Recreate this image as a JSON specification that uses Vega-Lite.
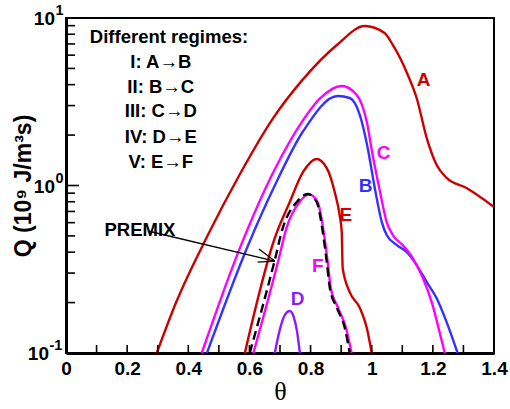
{
  "$schema": "https://vega.github.io/schema/vega-lite/v6.json",
  "width": 428,
  "height": 335,
  "autosize": "none",
  "padding": {"left": 66, "top": 18, "right": 16, "bottom": 56},
  "background": "white",
  "config": {
    "view": {"stroke": "black", "strokeWidth": 2},
    "axis": {
      "labelFont": "Liberation Sans", "labelFontWeight": "bold", "labelFontSize": 19, "labelColor": "black",
      "titleFont": "Liberation Sans", "titleFontWeight": "bold", "titleColor": "black",
      "domainColor": "black", "domainWidth": 3, "grid": false
    },
    "text": {"font": "Liberation Sans", "fontWeight": "bold"}
  },
  "datasets": {
    "curves": [
      {"s": "A", "t": 0.297, "q": 0.1}, {"s": "A", "t": 0.36, "q": 0.2}, {"s": "A", "t": 0.464, "q": 0.506},
      {"s": "A", "t": 0.57, "q": 1.18}, {"s": "A", "t": 0.676, "q": 2.5}, {"s": "A", "t": 0.775, "q": 4.3},
      {"s": "A", "t": 0.886, "q": 6.9}, {"s": "A", "t": 0.977, "q": 8.95}, {"s": "A", "t": 1.042, "q": 8.13},
      {"s": "A", "t": 1.069, "q": 6.9}, {"s": "A", "t": 1.114, "q": 4.76}, {"s": "A", "t": 1.147, "q": 3.33},
      {"s": "A", "t": 1.18, "q": 1.92}, {"s": "A", "t": 1.212, "q": 1.33}, {"s": "A", "t": 1.245, "q": 1.11},
      {"s": "A", "t": 1.31, "q": 0.966}, {"s": "A", "t": 1.4, "q": 0.745},
      {"s": "B", "t": 0.461, "q": 0.1}, {"s": "B", "t": 0.592, "q": 0.424}, {"s": "B", "t": 0.683, "q": 1.0},
      {"s": "B", "t": 0.775, "q": 2.1}, {"s": "B", "t": 0.889, "q": 3.42}, {"s": "B", "t": 0.928, "q": 3.33},
      {"s": "B", "t": 0.961, "q": 2.64}, {"s": "B", "t": 0.987, "q": 1.67}, {"s": "B", "t": 1.01, "q": 0.966},
      {"s": "B", "t": 1.033, "q": 0.605}, {"s": "B", "t": 1.049, "q": 0.506}, {"s": "B", "t": 1.082, "q": 0.441},
      {"s": "B", "t": 1.114, "q": 0.401}, {"s": "B", "t": 1.147, "q": 0.335}, {"s": "B", "t": 1.18, "q": 0.265},
      {"s": "B", "t": 1.212, "q": 0.213}, {"s": "B", "t": 1.245, "q": 0.153}, {"s": "B", "t": 1.281, "q": 0.1},
      {"s": "C", "t": 0.444, "q": 0.1}, {"s": "C", "t": 0.569, "q": 0.424}, {"s": "C", "t": 0.683, "q": 1.25},
      {"s": "C", "t": 0.775, "q": 2.45}, {"s": "C", "t": 0.83, "q": 3.3}, {"s": "C", "t": 0.902, "q": 3.93},
      {"s": "C", "t": 0.951, "q": 3.47}, {"s": "C", "t": 0.984, "q": 2.39}, {"s": "C", "t": 1.003, "q": 1.52},
      {"s": "C", "t": 1.026, "q": 0.94}, {"s": "C", "t": 1.049, "q": 0.605}, {"s": "C", "t": 1.069, "q": 0.506},
      {"s": "C", "t": 1.101, "q": 0.441}, {"s": "C", "t": 1.134, "q": 0.369}, {"s": "C", "t": 1.167, "q": 0.281},
      {"s": "C", "t": 1.199, "q": 0.194}, {"s": "C", "t": 1.222, "q": 0.133}, {"s": "C", "t": 1.239, "q": 0.1},
      {"s": "D", "t": 0.683, "q": 0.1}, {"s": "D", "t": 0.699, "q": 0.137}, {"s": "D", "t": 0.716, "q": 0.169},
      {"s": "D", "t": 0.732, "q": 0.178}, {"s": "D", "t": 0.745, "q": 0.164}, {"s": "D", "t": 0.755, "q": 0.137},
      {"s": "D", "t": 0.765, "q": 0.1},
      {"s": "E", "t": 0.585, "q": 0.1}, {"s": "E", "t": 0.683, "q": 0.486}, {"s": "E", "t": 0.732, "q": 0.797},
      {"s": "E", "t": 0.775, "q": 1.2}, {"s": "E", "t": 0.82, "q": 1.44}, {"s": "E", "t": 0.853, "q": 1.27},
      {"s": "E", "t": 0.879, "q": 0.914}, {"s": "E", "t": 0.895, "q": 0.667}, {"s": "E", "t": 0.902, "q": 0.527},
      {"s": "E", "t": 0.905, "q": 0.322}, {"s": "E", "t": 0.928, "q": 0.231}, {"s": "E", "t": 0.961, "q": 0.186},
      {"s": "E", "t": 0.984, "q": 0.141}, {"s": "E", "t": 1.0, "q": 0.1},
      {"s": "F", "t": 0.613, "q": 0.1}, {"s": "F", "t": 0.695, "q": 0.359}, {"s": "F", "t": 0.721, "q": 0.557},
      {"s": "F", "t": 0.764, "q": 0.797}, {"s": "F", "t": 0.795, "q": 0.885}, {"s": "F", "t": 0.823, "q": 0.797},
      {"s": "F", "t": 0.843, "q": 0.527}, {"s": "F", "t": 0.856, "q": 0.349}, {"s": "F", "t": 0.866, "q": 0.245},
      {"s": "F", "t": 0.89, "q": 0.186}, {"s": "F", "t": 0.916, "q": 0.141}, {"s": "F", "t": 0.934, "q": 0.1},
      {"s": "PREMIX", "t": 0.601, "q": 0.1}, {"s": "PREMIX", "t": 0.683, "q": 0.359}, {"s": "PREMIX", "t": 0.709, "q": 0.557},
      {"s": "PREMIX", "t": 0.755, "q": 0.797}, {"s": "PREMIX", "t": 0.791, "q": 0.889}, {"s": "PREMIX", "t": 0.82, "q": 0.797},
      {"s": "PREMIX", "t": 0.84, "q": 0.527}, {"s": "PREMIX", "t": 0.853, "q": 0.349}, {"s": "PREMIX", "t": 0.863, "q": 0.245},
      {"s": "PREMIX", "t": 0.886, "q": 0.186}, {"s": "PREMIX", "t": 0.912, "q": 0.141}, {"s": "PREMIX", "t": 0.928, "q": 0.1}
    ],
    "curveLabels": [
      {"s": "A", "t": 1.17, "q": 4.27}, {"s": "B", "t": 0.98, "q": 0.993}, {"s": "C", "t": 1.039, "q": 1.56},
      {"s": "D", "t": 0.758, "q": 0.21}, {"s": "E", "t": 0.915, "q": 0.667}, {"s": "F", "t": 0.824, "q": 0.33}
    ],
    "notes": [
      {"text": "Different regimes:", "t": 0.337, "q": 7.71},
      {"text": "I: A→B", "t": 0.31, "q": 5.46},
      {"text": "II: B→C", "t": 0.31, "q": 3.87},
      {"text": "III: C→D", "t": 0.31, "q": 2.79},
      {"text": "IV: D→E", "t": 0.31, "q": 1.95},
      {"text": "V: E→F", "t": 0.31, "q": 1.38},
      {"text": "PREMIX", "t": 0.242, "q": 0.542}
    ],
    "yLabels": [
      {"e": "1", "q": 10}, {"e": "0", "q": 1}, {"e": "-1", "q": 0.1}
    ],
    "xTicks": [
      {"t": 0.1}, {"t": 0.2}, {"t": 0.3}, {"t": 0.4}, {"t": 0.5}, {"t": 0.6}, {"t": 0.7},
      {"t": 0.8}, {"t": 0.9}, {"t": 1.0}, {"t": 1.1}, {"t": 1.2}, {"t": 1.3}
    ],
    "yMajorTicks": [{"q": 1}],
    "yMinorTicks": [
      {"q": 0.2}, {"q": 0.3}, {"q": 0.4}, {"q": 0.5}, {"q": 0.6}, {"q": 0.7}, {"q": 0.8}, {"q": 0.9},
      {"q": 2}, {"q": 3}, {"q": 4}, {"q": 5}, {"q": 6}, {"q": 7}, {"q": 8}, {"q": 9}
    ],
    "arrow": [
      {"t": 0.268, "q": 0.535, "t2": 0.683, "q2": 0.354},
      {"t": 0.631, "q": 0.418, "t2": 0.683, "q2": 0.354},
      {"t": 0.627, "q": 0.349, "t2": 0.683, "q2": 0.354}
    ]
  },
  "layer": [
    {
      "data": {"name": "curves"},
      "transform": [{"filter": "datum.s != 'PREMIX'"}],
      "mark": {"type": "line", "strokeWidth": 2.4, "interpolate": "monotone", "clip": true},
      "encoding": {
        "x": {"field": "t", "type": "quantitative", "scale": {"domain": [0, 1.4], "nice": false},
          "axis": {"orient": "bottom", "values": [0, 0.2, 0.4, 0.6, 0.8, 1, 1.2, 1.4],
            "format": "~g", "ticks": false, "tickSize": 0, "labelPadding": 6, "labelFlush": false, "labelOverlap": false,
            "title": "θ", "titleFont": "Liberation Serif", "titleFontWeight": "normal", "titleFontSize": 26, "titlePadding": 0}},
        "y": {"field": "q", "type": "quantitative", "scale": {"type": "log", "domain": [0.1, 10], "nice": false},
          "axis": {"orient": "left", "values": [0.1, 1, 10], "labels": false, "ticks": false, "tickSize": 0,
            "title": "Q (10⁹ J/m³s)", "titleFontSize": 23, "titlePadding": 31}},
        "color": {"field": "s", "type": "nominal", "legend": null,
          "scale": {"domain": ["A", "B", "C", "D", "E", "F", "PREMIX"],
            "range": ["#CC0000", "#3333FF", "#FF00FF", "#8A1CFF", "#CC0000", "#FF00FF", "black"]}},
        "detail": {"field": "s"}
      }
    },
    {
      "data": {"name": "curves"},
      "transform": [{"filter": "datum.s == 'PREMIX'"}],
      "mark": {"type": "line", "strokeWidth": 2.4, "interpolate": "monotone", "strokeDash": [9, 5], "color": "black", "clip": true},
      "encoding": {
        "x": {"field": "t", "type": "quantitative"},
        "y": {"field": "q", "type": "quantitative"}
      }
    },
    {
      "data": {"name": "arrow"},
      "mark": {"type": "rule", "color": "black", "strokeWidth": 1.3},
      "encoding": {
        "x": {"field": "t", "type": "quantitative"},
        "y": {"field": "q", "type": "quantitative"},
        "x2": {"field": "t2"},
        "y2": {"field": "q2"}
      }
    },
    {
      "data": {"name": "xTicks"},
      "mark": {"type": "rule", "color": "black", "strokeWidth": 1.6, "yOffset": -8},
      "encoding": {
        "x": {"field": "t", "type": "quantitative"},
        "y": {"datum": 0.1, "type": "quantitative"},
        "y2": {"datum": 0.1}
      }
    },
    {
      "data": {"name": "yMajorTicks"},
      "mark": {"type": "rule", "color": "black", "strokeWidth": 1.6, "x2Offset": 13},
      "encoding": {
        "x": {"datum": 0, "type": "quantitative"},
        "x2": {"datum": 0},
        "y": {"field": "q", "type": "quantitative"}
      }
    },
    {
      "data": {"name": "yMinorTicks"},
      "mark": {"type": "rule", "color": "black", "strokeWidth": 1.6, "x2Offset": 9},
      "encoding": {
        "x": {"datum": 0, "type": "quantitative"},
        "x2": {"datum": 0},
        "y": {"field": "q", "type": "quantitative"}
      }
    },
    {
      "data": {"name": "curveLabels"},
      "mark": {"type": "text", "fontSize": 19, "align": "center", "baseline": "middle"},
      "encoding": {
        "x": {"field": "t", "type": "quantitative"},
        "y": {"field": "q", "type": "quantitative"},
        "text": {"field": "s"},
        "color": {"field": "s", "type": "nominal", "legend": null}
      }
    },
    {
      "data": {"name": "notes"},
      "mark": {"type": "text", "fontSize": 18.5, "align": "center", "baseline": "middle", "color": "black"},
      "encoding": {
        "x": {"field": "t", "type": "quantitative"},
        "y": {"field": "q", "type": "quantitative"},
        "text": {"field": "text"}
      }
    },
    {
      "data": {"name": "yLabels"},
      "transform": [{"filter": "datum.q > 0.5"}],
      "mark": {"type": "text", "fontSize": 19, "align": "right", "baseline": "middle", "color": "black", "dy": 1, "clip": false},
      "encoding": {
        "x": {"datum": -0.036, "type": "quantitative"},
        "y": {"field": "q", "type": "quantitative"},
        "text": {"value": "10"}
      }
    },
    {
      "data": {"name": "yLabels"},
      "transform": [{"filter": "datum.q < 0.5"}],
      "mark": {"type": "text", "fontSize": 19, "align": "right", "baseline": "middle", "color": "black", "dy": 1, "clip": false},
      "encoding": {
        "x": {"datum": -0.0556, "type": "quantitative"},
        "y": {"field": "q", "type": "quantitative"},
        "text": {"value": "10"}
      }
    },
    {
      "data": {"name": "yLabels"},
      "transform": [{"filter": "datum.q > 0.5"}],
      "mark": {"type": "text", "fontSize": 14.5, "align": "left", "baseline": "middle", "color": "black", "dy": -7, "clip": false},
      "encoding": {
        "x": {"datum": -0.0343, "type": "quantitative"},
        "y": {"field": "q", "type": "quantitative"},
        "text": {"field": "e"}
      }
    },
    {
      "data": {"name": "yLabels"},
      "transform": [{"filter": "datum.q < 0.5"}],
      "mark": {"type": "text", "fontSize": 14.5, "align": "left", "baseline": "middle", "color": "black", "dy": -7, "clip": false},
      "encoding": {
        "x": {"datum": -0.0539, "type": "quantitative"},
        "y": {"field": "q", "type": "quantitative"},
        "text": {"field": "e"}
      }
    }
  ]
}
